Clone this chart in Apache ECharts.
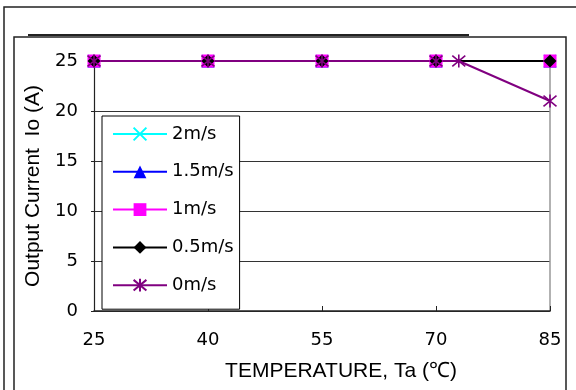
<!DOCTYPE html>
<html>
<head>
<meta charset="utf-8">
<script src="https://cdn.jsdelivr.net/npm/echarts@6/dist/echarts.min.js"></script>
<style>html,body{margin:0;padding:0;background:#fff;}#c{width:576px;height:390px;}</style>
</head>
<body>
<div id="c"></div>
<script>
const xTicks = [25, 40, 55, 70, 85];
const yTicks = [0, 5, 10, 15, 20, 25];
const seriesNames = ['2m/s', '1.5m/s', '1m/s', '0.5m/s', '0m/s'];
const temp2 = [25, 40, 55, 70, 85];
const io2 = [25, 25, 25, 25, 25];
const temp15 = [25, 40, 55, 70, 85];
const io15 = [25, 25, 25, 25, 25];
const temp1 = [25, 40, 55, 70, 85];
const io1 = [25, 25, 25, 25, 25];
const temp05 = [25, 40, 55, 70, 85];
const io05 = [25, 25, 25, 25, 25];
const temp0 = [25, 40, 55, 70, 73, 85];
const io0 = [25, 25, 25, 25, 25, 21];

const pair = (xs, ys) => xs.map((x, i) => [x, ys[i]]);
const crossPath = 'path://M0,0L10,10M10,0L0,10';
const starPath = 'path://M0,0L10,10M10,0L0,10M5,-1L5,11';

function lineSeries(name, data, color, symbol, size, stroke) {
  return {
    name, type: 'line', data, symbol, symbolSize: size,
    lineStyle: { color, width: 2 },
    itemStyle: stroke ? { color, borderColor: color, borderWidth: 1.6 } : { color, borderWidth: 0 },
    emphasis: { disabled: true },
    animation: false,
    z: 3
  };
}

const chart = echarts.init(document.getElementById('c'));
chart.setOption({
  animation: false,
  backgroundColor: '#fff',
  grid: { left: 94, right: 26, top: 61, bottom: 79 },
  legend: {
    orient: 'vertical', left: 102, top: 116,
    data: seriesNames,
    itemWidth: 54, itemHeight: 16, itemGap: 17.8,
    padding: [8, 6, 14, 10],
    borderColor: '#000', borderWidth: 1, backgroundColor: '#fff',
    textStyle: { fontFamily: 'DejaVu Sans', fontSize: 18, color: '#000', lineHeight: 20 },
    z: 10
  },
  xAxis: {
    type: 'value', min: 25, max: 85, interval: 15,
    axisLine: { lineStyle: { color: '#222', width: 1.5 } },
    axisTick: { inside: true, length: 5, lineStyle: { color: '#222' } },
    axisLabel: { margin: 20, fontFamily: 'DejaVu Sans', fontSize: 18, color: '#000',
      formatter: v => xTicks.includes(v) ? String(v) : '' },
    splitLine: { show: false },
    name: 'TEMPERATURE, Ta (℃)', nameLocation: 'middle', nameGap: 50,
    nameTextStyle: { fontFamily: 'Liberation Sans', fontSize: 21, color: '#000', padding: [0, 0, 0, 38] }
  },
  yAxis: [{
    type: 'value', min: 0, max: 25, interval: 5,
    axisLine: { show: true, lineStyle: { color: '#222', width: 1.2 } },
    axisTick: { show: true, inside: false, length: 3, lineStyle: { color: '#222' } },
    axisLabel: { margin: 16, fontFamily: 'DejaVu Sans', fontSize: 18, color: '#000',
      formatter: v => yTicks.includes(v) ? String(v) : '' },
    splitLine: { show: true, lineStyle: { color: '#333', width: 1 } },
    name: 'Output Current  Io (A)', nameLocation: 'middle', nameGap: 46,
    nameTextStyle: { fontFamily: 'Liberation Sans', fontSize: 21, color: '#000' }
  }, {
    type: 'value', min: 0, max: 25, interval: 5, position: 'right',
    axisLine: { show: true, lineStyle: { color: '#999', width: 1.5 } },
    axisTick: { show: false }, axisLabel: { show: false }, splitLine: { show: false }
  }],
  graphic: [
    { type: 'rect', shape: { x: 4, y: 7, width: 600, height: 400 }, style: { fill: 'none', stroke: '#222', lineWidth: 1.5 }, silent: true },
    { type: 'rect', shape: { x: 14, y: 37, width: 552, height: 400 }, style: { fill: 'none', stroke: '#222', lineWidth: 1.5 }, silent: true },
    { type: 'line', shape: { x1: 28, y1: 35, x2: 469, y2: 35 }, style: { stroke: '#222', lineWidth: 2 }, silent: true }
  ],
  series: [
    lineSeries('2m/s', pair(temp2, io2), '#00FFFF', crossPath, 12, true),
    lineSeries('1.5m/s', pair(temp15, io15), '#0000FF', 'triangle', 13, false),
    lineSeries('1m/s', pair(temp1, io1), '#FF00FF', 'rect', 13, false),
    lineSeries('0.5m/s', pair(temp05, io05), '#000000', 'diamond', 13, false),
    lineSeries('0m/s', pair(temp0, io0), '#800080', starPath, 13, true)
  ]
});
</script>
</body>
</html>
